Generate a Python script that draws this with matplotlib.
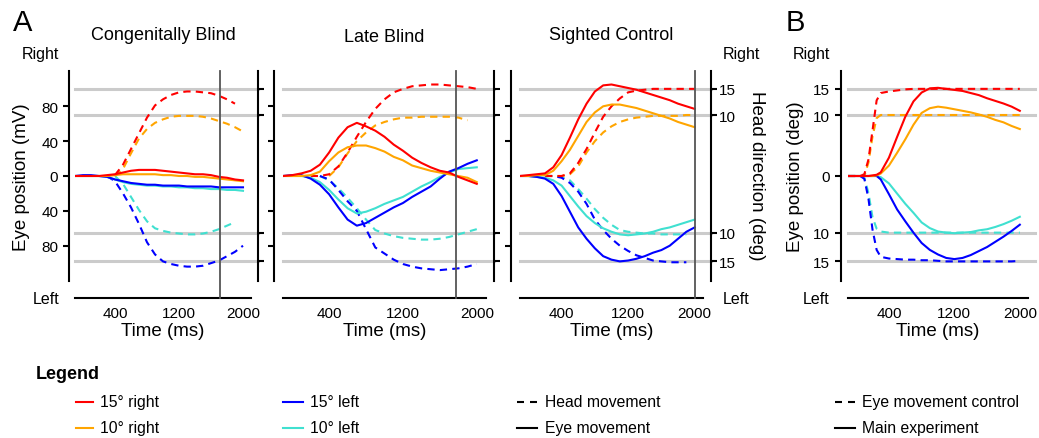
import numpy as np
import matplotlib.pyplot as plt
from matplotlib.lines import Line2D

plt.rcParams['font.family'] = ['Liberation Sans', 'DejaVu Sans']

nan = np.nan

# ---- data ----------------------------------------------------------------
# time in ms
time = [-100, 0, 100, 200, 300, 400, 500, 600, 700, 800, 900, 1000,
        1100, 1200, 1300, 1400, 1500, 1600, 1700, 1800, 1900, 2000]

# Congenitally blind (eye in mV, head on the same plotting scale)
cb_eye_r15 = [0, 0, 0, 0, 1, 2, 4, 6, 7, 7, 7, 6, 5, 4, 3, 2, 2, 1, -1, -2, -4, -5]
cb_eye_r10 = [0, 0, 0, 0, 0, 1, 2, 2, 2, 2, 2, 1, 1, 0, 0, -1, -1, -2, -3, -4, -5, -6]
cb_eye_l15 = [0, 1, 1, 0, -1, -4, -6, -8, -9, -10, -10, -11, -11, -11, -12, -12, -12, -12, -13, -13, -13, -13]
cb_eye_l10 = [0, 0, 0, 0, -1, -4, -7, -9, -10, -11, -11, -12, -12, -13, -13, -14, -14, -15, -15, -16, -16, -17]
cb_head_r15 = [nan, nan, nan, nan, nan, 1, 13, 31, 49, 67, 81, 88, 93, 96, 97, 97, 96, 95, 92, 88, 83, nan]
cb_head_r10 = [nan, nan, nan, nan, nan, 0, 8, 26, 43, 54, 61, 65, 68, 69, 69, 69, 68, 66, 63, 60, 56, 51]
cb_head_l15 = [nan, nan, nan, nan, 0, -6, -20, -36, -55, -76, -90, -98, -101, -103, -104, -104, -103, -100, -97, -92, -87, -80]
cb_head_l10 = [nan, nan, nan, nan, nan, 0, -9, -24, -39, -52, -60, -63, -65, -66, -67, -67, -66, -64, -61, -57, -53, nan]
cb_end = 1710

# Late blind
lb_eye_r15 = [0, 1, 3, 6, 13, 27, 44, 56, 61, 57, 52, 45, 36, 29, 21, 15, 10, 6, 4, -1, -5, -9]
lb_eye_r10 = [0, 0, 0, 1, 5, 17, 27, 33, 35, 35, 32, 28, 22, 18, 12, 9, 6, 4, 2, 0, -2, -7]
lb_eye_l15 = [0, 1, 1, -3, -10, -21, -36, -50, -57, -54, -48, -42, -36, -31, -24, -18, -12, -3, 5, 9, 14, 18]
lb_eye_l10 = [0, 0, 0, -2, -7, -16, -27, -37, -43, -41, -37, -32, -28, -24, -18, -12, -7, -1, 4, 8, 9, 10]
lb_head_r15 = [nan, nan, nan, 0, 0, 2, 11, 27, 45, 62, 77, 88, 96, 100, 103, 104, 105, 105, 104, 103, 102, 100]
lb_head_r10 = [nan, nan, nan, nan, nan, 0, 10, 26, 40, 50, 58, 62, 65, 67, 67, 68, 68, 68, 68, 67, 64, nan]
lb_head_l15 = [nan, nan, nan, nan, 0, -4, -16, -29, -40, -61, -82, -89, -96, -101, -104, -106, -107, -108, -107, -106, -104, -101]
lb_head_l10 = [nan, nan, nan, nan, 0, -5, -14, -25, -37, -50, -62, -66, -69, -71, -72, -73, -73, -72, -70, -67, -64, -61]
lb_end = 1780

# Sighted control
sc_eye_r15 = [0, 1, 2, 3, 10, 24, 44, 65, 83, 97, 104, 105, 103, 101, 99, 96, 93, 90, 87, 83, 80, 77]
sc_eye_r10 = [0, 0, 1, 1, 6, 17, 30, 46, 62, 73, 80, 82, 82, 80, 78, 75, 72, 69, 66, 62, 59, 56]
sc_eye_l15 = [0, 0, -1, -3, -9, -23, -41, -59, -72, -83, -92, -96, -98, -97, -95, -92, -88, -85, -80, -72, -64, -59]
sc_eye_l10 = [0, 0, -1, -2, -5, -11, -23, -35, -46, -54, -60, -64, -67, -68, -67, -66, -64, -61, -59, -56, -53, -50]
sc_head_r15 = [nan, nan, nan, 0, 0, 0, 3, 15, 31, 50, 68, 80, 89, 96, 98, 99, 100, 100, 100, 100, 100, 100]
sc_head_r10 = [nan, nan, nan, 0, 0, 0, 2, 11, 27, 40, 50, 57, 62, 65, 67, 68, 69, 69, 69, 69, 70, 70]
sc_head_l15 = [nan, nan, nan, 0, 0, -2, -8, -18, -32, -50, -62, -72, -80, -86, -91, -94, -97, -98, -99, -99, -99, nan]
sc_head_l10 = [nan, nan, nan, 0, 0, -1, -5, -15, -26, -38, -48, -56, -62, -64, -65, -66, -66, -67, -67, -67, -67, nan]
sc_end = 2000

# Panel B (degrees)
time_b = [-100, 0, 50, 100, 150, 200, 250, 300, 400, 500, 600, 700, 800, 900,
          1000, 1100, 1200, 1300, 1400, 1500, 1600, 1700, 1800, 1900, 2000]
main_r15 = [0, 0, 0, 0, 0, 0.1, 0.2, 0.6, 3, 6.4, 9.7, 12.6, 14.3, 15.1, 15.2, 15, 14.8, 14.6, 14.2, 13.8, 13.2, 12.7, 12.2, 11.6, 10.8]
main_r10 = [0, 0, 0, 0, 0, 0, 0.1, 0.4, 1.7, 3.8, 6.0, 8.4, 10.4, 11.3, 11.6, 11.4, 11.1, 10.8, 10.5, 10.1, 9.7, 9.2, 8.8, 8.2, 7.7]
main_l15 = [0, 0, 0, 0, 0, 0, 0, -0.6, -3.2, -5.9, -8.0, -10.0, -11.8, -13.0, -13.8, -14.4, -14.6, -14.4, -13.9, -13.2, -12.5, -11.6, -10.7, -9.7, -8.6]
main_l10 = [0, 0, 0, 0, 0, 0, 0, -0.2, -1.3, -3.1, -4.9, -6.5, -8.2, -9.2, -9.8, -10, -10.1, -10, -9.9, -9.6, -9.4, -9.0, -8.5, -7.9, -7.2]
ctrl_r15 = [0, 0, 0, 0.3, 2.7, 7.5, 12.8, 14.2, 14.5, 14.7, 14.9, 15, 15, 15, 15, 15, 15, 15, 15, 15, 15, 15, 15, 15, 15]
ctrl_r10 = [0, 0, 0, 0, 2.2, 6.5, 9.5, 10, 10, 10, 10, 10, 10, 10, 10, 10, 10, 10, 10, 10, 10, 10, 10, 10, 10]
ctrl_l15 = [0, 0, 0, -0.5, -4, -9.5, -13, -14.2, -14.5, -14.6, -14.7, -14.7, -14.8, -14.8, -14.9, -15, -15, -15, -15, -15, -15, -15, -15, -15, -14.9]
ctrl_l10 = [0, 0, 0, -0.3, -3, -7.3, -9.3, -9.8, -10, -10, -10, -10, -10, -10, -10, -10, -10, -10, -10, -10, -10, -10, -10, -10, -10]

# head direction / degree positions on the common vertical scale
deg_knots = [-30, -15, -10, 0, 10, 15, 30]
pos_knots = [-196, -98, -65, 0, 70, 100, 190]
head_deg = [15, 10, -10, -15]

colors = {'r15': '#ff0000', 'r10': '#ffa500', 'l15': '#0000ff', 'l10': '#40e0d0'}

# ---- layout helpers ------------------------------------------------------
W, H = 1039, 439


def fx(x):
    return x / W


def fy(y):
    return 1 - y / H


def box(l, t, r, b):
    return [l / W, 1 - b / H, (r - l) / W, (b - t) / H]


def fwd(d):
    return np.interp(d, deg_knots, pos_knots)


def inv(p):
    return np.interp(p, pos_knots, deg_knots)


PX = 0.72  # points per pixel at dpi 100
YLIM = (-120.5, 120.5)
DASH = (3.5, 2.5)


def base_style(ax, left_off):
    for s in ['top', 'right']:
        ax.spines[s].set_visible(False)
    ax.spines['left'].set_position(('outward', left_off * PX))
    ax.spines['bottom'].set_position(('outward', 17 * PX))
    ax.spines['left'].set_linewidth(1.5)
    ax.spines['bottom'].set_linewidth(1.5)
    ax.tick_params(axis='y', length=4.3, width=1.5, pad=3.5, labelsize=11)
    ax.tick_params(axis='x', length=0, pad=5.5, labelsize=11)
    ax.set_xlim(-100, 2100)
    ax.set_xticks([400, 1200, 2000])
    ax.set_xticklabels(['400', '1200', '2000'])
    ax.set_xlabel('Time (ms)', fontsize=13.5, labelpad=2)
    ax.patch.set_visible(False)


def draw(ax, t, eye, head):
    for k in ['l10', 'l15', 'r10', 'r15']:
        ax.plot(t, head[k], color=colors[k], lw=1.5, dashes=DASH, zorder=2)
    for k in ['l10', 'l15', 'r10', 'r15']:
        ax.plot(t, eye[k], color=colors[k], lw=1.5, zorder=2.5)


fig = plt.figure(figsize=(10.39, 4.39), dpi=100)

panels = [
    ((75, 72, 251, 282), 6, 7, cb_end,
     {'r15': cb_eye_r15, 'r10': cb_eye_r10, 'l15': cb_eye_l15, 'l10': cb_eye_l10},
     {'r15': cb_head_r15, 'r10': cb_head_r10, 'l15': cb_head_l15, 'l10': cb_head_l10}),
    ((283, 72, 486, 282), 9, 8, lb_end,
     {'r15': lb_eye_r15, 'r10': lb_eye_r10, 'l15': lb_eye_l15, 'l10': lb_eye_l10},
     {'r15': lb_head_r15, 'r10': lb_head_r10, 'l15': lb_head_l15, 'l10': lb_head_l10}),
    ((520, 72, 703, 282), 9, 8, sc_end,
     {'r15': sc_eye_r15, 'r10': sc_eye_r10, 'l15': sc_eye_l15, 'l10': sc_eye_l10},
     {'r15': sc_head_r15, 'r10': sc_head_r10, 'l15': sc_head_l15, 'l10': sc_head_l10}),
]

head_pos = fwd(head_deg)
for i, (b, loff, roff, t_end, eye, head) in enumerate(panels):
    ax = fig.add_axes(box(*b))
    base_style(ax, loff)
    ax.set_ylim(*YLIM)
    ax.set_yticks([80, 40, 0, -40, -80])
    ax.set_yticklabels(['80', '40', '0', '40', '80'] if i == 0 else [])
    width = b[2] - b[0]
    for p in head_pos:
        ax.axhline(p, xmin=0, xmax=1 + roff / width, color='#cbcbcb', lw=2.2,
                   zorder=0.5, clip_on=False)
    draw(ax, time, eye, head)
    ax.axvline(t_end, ymin=-17 / 210, ymax=1, color='#555555', lw=1.3,
               zorder=3, clip_on=False)

    axr = ax.twinx()
    axr.set_ylim(*YLIM)
    for s in ['top', 'left', 'bottom']:
        axr.spines[s].set_visible(False)
    axr.spines['right'].set_position(('outward', roff * PX))
    axr.spines['right'].set_linewidth(1.5)
    axr.set_yticks(head_pos)
    axr.set_yticklabels(['15', '10', '10', '15'] if i == 2 else [])
    axr.tick_params(axis='y', length=4.3, width=1.5, pad=1.5, labelsize=11)

# panel B
axb = fig.add_axes(box(848, 72, 1028, 282))
axb.set_yscale('function', functions=(fwd, inv))
base_style(axb, 7)
axb.set_ylim(inv(YLIM[0]), inv(YLIM[1]))
axb.set_yticks([15, 10, 0, -10, -15])
axb.set_yticklabels(['15', '10', '0', '10', '15'])
for d in head_deg:
    axb.axhline(d, xmin=0, xmax=1 + 7 / 180, color='#cbcbcb', lw=2.2,
                zorder=0.5, clip_on=False)
draw(axb, time_b,
     {'r15': main_r15, 'r10': main_r10, 'l15': main_l15, 'l10': main_l10},
     {'r15': ctrl_r15, 'r10': ctrl_r10, 'l15': ctrl_l15, 'l10': ctrl_l10})

# ---- text ----------------------------------------------------------------
fig.text(fx(13), fy(23), 'A', fontsize=21, ha='left', va='center')
fig.text(fx(786), fy(23), 'B', fontsize=21, ha='left', va='center')
fig.text(fx(163), fy(35), 'Congenitally Blind', fontsize=13, ha='center', va='center')
fig.text(fx(384), fy(37), 'Late Blind', fontsize=13, ha='center', va='center')
fig.text(fx(611), fy(35), 'Sighted Control', fontsize=13, ha='center', va='center')

fig.text(fx(59), fy(55), 'Right', fontsize=11.5, ha='right', va='center')
fig.text(fx(59), fy(300), 'Left', fontsize=11.5, ha='right', va='center')
fig.text(fx(723), fy(55), 'Right', fontsize=11.5, ha='left', va='center')
fig.text(fx(723), fy(300), 'Left', fontsize=11.5, ha='left', va='center')
fig.text(fx(830), fy(55), 'Right', fontsize=11.5, ha='right', va='center')
fig.text(fx(830), fy(300), 'Left', fontsize=11.5, ha='right', va='center')

fig.text(fx(22), fy(177), 'Eye position (mV)', fontsize=13.5, rotation=90,
         ha='center', va='center')
fig.text(fx(795), fy(177), 'Eye position (deg)', fontsize=13.5, rotation=90,
         ha='center', va='center')
fig.text(fx(757), fy(176), 'Head direction (deg)', fontsize=13.5, rotation=270,
         ha='center', va='center')

# ---- legend --------------------------------------------------------------
fig.text(fx(36), fy(375), 'Legend', fontsize=13, fontweight='bold',
         ha='left', va='center')
legend_rows = [403, 429]
legend_items = [
    (76, 93, 100, 0, '15° right', colors['r15'], None),
    (76, 93, 100, 1, '10° right', colors['r10'], None),
    (283, 303, 310, 0, '15° left', colors['l15'], None),
    (283, 303, 310, 1, '10° left', colors['l10'], None),
    (517, 537, 545, 0, 'Head movement', 'black', (3.36, 2.88)),
    (517, 537, 545, 1, 'Eye movement', 'black', None),
    (835, 855, 862, 0, 'Eye movement control', 'black', (3.36, 2.88)),
    (835, 855, 862, 1, 'Main experiment', 'black', None),
]
for x0, x1, xt, row, label, c, dash in legend_items:
    y = legend_rows[row]
    ln = Line2D([fx(x0), fx(x1)], [fy(y), fy(y)], transform=fig.transFigure,
                color=c, lw=1.5)
    if dash:
        ln.set_dashes(dash)
    fig.add_artist(ln)
    fig.text(fx(xt), fy(y), label, fontsize=11.3, ha='left', va='center')

fig.savefig('out.png', dpi=100)
